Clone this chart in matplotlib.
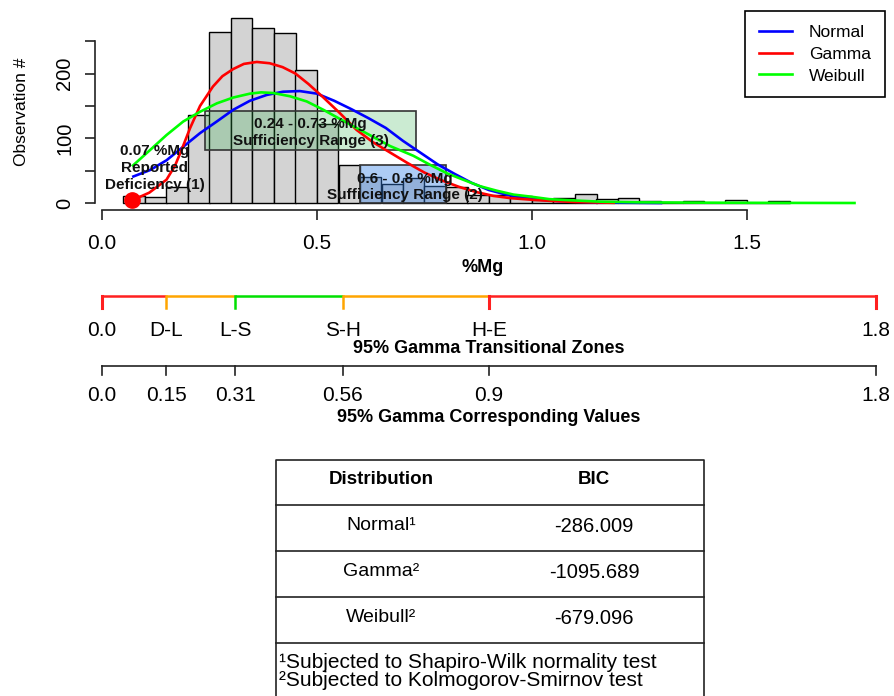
import matplotlib
matplotlib.use("Agg")
import matplotlib.pyplot as plt
from matplotlib import font_manager as fm
from matplotlib.patches import Rectangle

plt.rcParams['font.family'] = ['Liberation Sans', 'DejaVu Sans']
names = {f.name for f in fm.fontManager.ttflist}
narrow = 'Liberation Sans Narrow' if 'Liberation Sans Narrow' in names else 'Liberation Sans'

# histogram of %Mg (bin left edges, width 0.05)
bin_left = [0.05, 0.10, 0.15, 0.20, 0.25, 0.30, 0.35, 0.40, 0.45, 0.50, 0.55, 0.60, 0.65, 0.70,
            0.75, 0.80, 0.85, 0.90, 0.95, 1.00, 1.05, 1.10, 1.15, 1.20, 1.25, 1.30, 1.35, 1.40,
            1.45, 1.50, 1.55]
counts = [11, 10, 24, 136, 265, 286, 271, 263, 205, 122, 59, 40, 30, 38,
          26, 24, 13, 13, 11, 5, 8, 14, 6, 8, 3, 2, 3, 0,
          4, 0, 3]
bin_w = 0.05

# fitted curves
normal_x = [0.073, 0.112, 0.150, 0.189, 0.228, 0.267, 0.305, 0.344, 0.383, 0.421, 0.46, 0.50,
            0.54, 0.58, 0.62, 0.66, 0.70, 0.74, 0.78, 0.82, 0.86, 0.90, 0.94, 0.98, 1.02, 1.06,
            1.10, 1.15, 1.20, 1.30]
normal_y = [41, 51, 66, 87, 108, 126, 144, 158, 167, 172, 173, 169,
            158, 145, 131, 116, 96, 78, 60, 45, 31, 20, 13, 8, 5, 3,
            2, 1, 0.5, 0]
gamma_x = [0.073, 0.11, 0.15, 0.17, 0.185, 0.205, 0.228, 0.258, 0.28, 0.305, 0.33, 0.36, 0.39,
           0.42, 0.45, 0.48, 0.515, 0.553, 0.592, 0.63, 0.67, 0.71, 0.75, 0.79, 0.83, 0.87,
           0.91, 0.95, 1.0, 1.05, 1.1, 1.19]
gamma_y = [5, 16, 36, 58, 82, 116, 150, 180, 196, 207, 215, 218, 216,
           210, 200, 184, 163, 139, 113, 94, 78, 62, 47, 35, 25, 17,
           11, 7.5, 5, 3, 1.5, 0.3]
weib_x = [0.072, 0.112, 0.15, 0.189, 0.228, 0.267, 0.305, 0.344, 0.37, 0.398, 0.437, 0.476,
          0.515, 0.553, 0.592, 0.631, 0.67, 0.724, 0.763, 0.802, 0.84, 0.879, 0.918, 0.957,
          0.995, 1.04, 1.08, 1.16, 1.25, 1.4, 1.55, 1.75]
weib_y = [58, 82, 105, 126, 141, 154, 163, 169, 171, 170, 165, 157,
          144, 130, 116, 102, 88, 73, 59, 46, 36, 26, 19, 13,
          10, 6, 4.5, 2, 1, 0.5, 0.2, 0]

x_ticks = [0.0, 0.5, 1.0, 1.5]
x_ticklabels = ['0.0', '0.5', '1.0', '1.5']
y_ticks = [0, 50, 100, 150, 200, 250]
y_ticklabels = ['0', '', '100', '', '200', '']

# reported ranges
suff3 = (0.24, 0.73, 82, 142)
suff2 = (0.60, 0.80, 0, 58)
deficiency = 0.07

# transitional zones
zone_pos = [0.0, 0.15, 0.31, 0.56, 0.9, 1.8]
zone_names = ['0.0', 'D-L', 'L-S', 'S-H', 'H-E', '1.8']
zone_values = ['0.0', '0.15', '0.31', '0.56', '0.9', '1.8']
seg_colors = ['#ff2020', '#ffa500', '#00e000', '#ffa500', '#ff2020']
tick_colors = ['#ff2020', '#ffa500', '#00e000', '#ffa500', '#ff2020', '#ff2020']

# BIC table
dists = ['Normal', 'Gamma', 'Weibull']
sups = ['\u00b9', '\u00b2', '\u00b2']
bic = ['-286.009', '-1095.689', '-679.096']
notes = ['\u00b9Subjected to Shapiro-Wilk normality test',
         '\u00b2Subjected to Kolmogorov-Smirnov test']

W, H = 895, 696
fig = plt.figure(figsize=(W / 100, H / 100), dpi=100)

px0, ppu = 102, 430.0      # pixel of x=0 and pixels per unit
xl = ((95 - px0) / ppu, (890 - px0) / ppu)

ax = fig.add_axes([95 / W, 1 - 210 / H, 795 / W, 205 / H])
ax.set_xlim(*xl)
ax.set_ylim((203 - 210) / 0.647, (203 - 5) / 0.647)
ax.bar(bin_left, counts, width=bin_w, align='edge', color='#d3d3d3', edgecolor='black',
       linewidth=1, zorder=1)
ax.add_patch(Rectangle((suff3[0], suff3[2]), suff3[1] - suff3[0], suff3[3] - suff3[2],
                       facecolor='#33b34d', alpha=0.25, zorder=2))
ax.add_patch(Rectangle((suff3[0], suff3[2]), suff3[1] - suff3[0], suff3[3] - suff3[2],
                       fill=False, edgecolor='#333333', linewidth=1.2, zorder=2))
ax.add_patch(Rectangle((suff2[0], suff2[2]), suff2[1] - suff2[0], suff2[3] - suff2[2],
                       facecolor='#3380e6', alpha=0.4, zorder=2))
ax.add_patch(Rectangle((suff2[0], suff2[2]), suff2[1] - suff2[0], suff2[3] - suff2[2],
                       fill=False, edgecolor='#333333', linewidth=1.2, zorder=2))
ax.plot(normal_x, normal_y, color='#0000ff', lw=1.9, label='Normal', zorder=3)
ax.plot(gamma_x, gamma_y, color='#ff0000', lw=1.9, label='Gamma', zorder=3)
ax.plot(weib_x, weib_y, color='#00ff00', lw=1.9, label='Weibull', zorder=3)
ax.plot([deficiency], [4], 'o', color='#ff0000', ms=11, zorder=5, clip_on=False)

ax.text((suff3[0] + suff3[1]) / 2, (suff3[2] + suff3[3]) / 2 - 3,
        '0.24 - 0.73 %Mg\nSufficiency Range (3)', ha='center', va='center',
        family=narrow, fontweight='bold', fontsize=11, linespacing=1.25, color='#111111', zorder=4)
ax.text((suff2[0] + suff2[1]) / 2 + 0.005, (suff2[2] + suff2[3]) / 2 - 4,
        '0.6 - 0.8 %Mg\nSufficiency Range (2)', ha='center', va='center',
        family=narrow, fontweight='bold', fontsize=11, linespacing=1.15, color='#111111', zorder=4)
ax.text(deficiency + 0.053, 54, '0.07 %Mg\nReported\nDeficiency (1)', ha='center', va='center',
        family=narrow, fontweight='bold', fontsize=11, linespacing=1.3, color='#111111', zorder=4)

for s in ['top', 'right']:
    ax.spines[s].set_visible(False)
ax.spines['left'].set_bounds(0, 250)
ax.spines['bottom'].set_bounds(0, 1.5)
for s in ['left', 'bottom']:
    ax.spines[s].set_linewidth(1.2)
    ax.spines[s].set_color('#222222')
ax.set_xticks(x_ticks)
ax.set_xticklabels(x_ticklabels)
ax.set_yticks(y_ticks)
ax.set_yticklabels(y_ticklabels)
ax.tick_params(axis='x', length=7, width=1.2, labelsize=15, pad=10, color='#222222')
ax.tick_params(axis='y', length=7, width=1.2, labelsize=14.5, pad=8, color='#222222')
for lab in ax.get_yticklabels():
    lab.set_rotation(90)
    lab.set_va('center')

leg = ax.legend(loc='upper right', bbox_to_anchor=(885 / W, 1 - 11 / H),
                bbox_transform=fig.transFigure, fancybox=False, edgecolor='black',
                framealpha=1, fontsize=12.5, handlelength=1.9, labelspacing=0.38,
                borderpad=0.8, borderaxespad=0, handletextpad=1.0)
leg.get_frame().set_linewidth(1.2)

fig.text(483 / W, 1 - 267 / H, '%Mg', ha='center', va='center', fontsize=13, fontweight='bold')
fig.text(22 / W, 1 - 112 / H, 'Observation #', ha='center', va='center', rotation=90,
         fontsize=12.5)

# transitional zone scales (y in pixel units)
ax2 = fig.add_axes([95 / W, 1 - 430 / H, 795 / W, 150 / H])
ax2.set_xlim(*xl)
ax2.set_ylim(430, 280)
ax2.axis('off')
for i, c in enumerate(seg_colors):
    ax2.plot([zone_pos[i], zone_pos[i + 1]], [296, 296], color=c, lw=1.8,
             solid_capstyle='butt')
for p, c, n, v in zip(zone_pos, tick_colors, zone_names, zone_values):
    ax2.plot([p, p], [296, 308], color=c, lw=1.8 if c != '#ff2020' else 2.2)
    ax2.text(p, 330, n, ha='center', va='center', fontsize=15)
    ax2.plot([p, p], [366, 375], color='#222222', lw=1.2)
    ax2.text(p, 395, v, ha='center', va='center', fontsize=15)
ax2.plot([zone_pos[0], zone_pos[-1]], [366, 366], color='#222222', lw=1.2)
mid = (zone_pos[0] + zone_pos[-1]) / 2
ax2.text(mid, 348, '95% Gamma Transitional Zones', ha='center', va='center',
         family=narrow, fontsize=13, fontweight='bold')
ax2.text(mid, 417, '95% Gamma Corresponding Values', ha='center', va='center',
         family=narrow, fontsize=13, fontweight='bold')

# BIC table drawn in pixel coordinates
ax3 = fig.add_axes([0, 0, 1, 1])
ax3.set_xlim(0, W)
ax3.set_ylim(H, 0)
ax3.axis('off')
tl, tr, tt = 276, 704, 460
row_h = 46
c1, c2 = 381, 594
ax3.plot([tl, tl, tr, tr], [H + 5, tt, tt, H + 5], color='#222222', lw=1.2)
for i in range(len(dists) + 1):
    yline = tt + 45 + row_h * i
    ax3.plot([tl, tr], [yline, yline], color='#222222', lw=1.2)
ax3.text(c1, tt + 19, 'Distribution', ha='center', va='center', fontsize=13.5, fontweight='bold')
ax3.text(c2, tt + 19, 'BIC', ha='center', va='center', fontsize=13.5, fontweight='bold')
for i, (d, s, b) in enumerate(zip(dists, sups, bic)):
    yc = tt + 45 + row_h * i + 21
    ax3.text(c1, yc, d + s, ha='center', va='center', fontsize=14)
    ax3.text(c2, yc, b, ha='center', va='center', fontsize=14.5)
for j, n in enumerate(notes):
    ax3.text(tl + 3, 662 + 18 * j, n, ha='left', va='center', fontsize=15)

fig.savefig('out.png', dpi=100)
